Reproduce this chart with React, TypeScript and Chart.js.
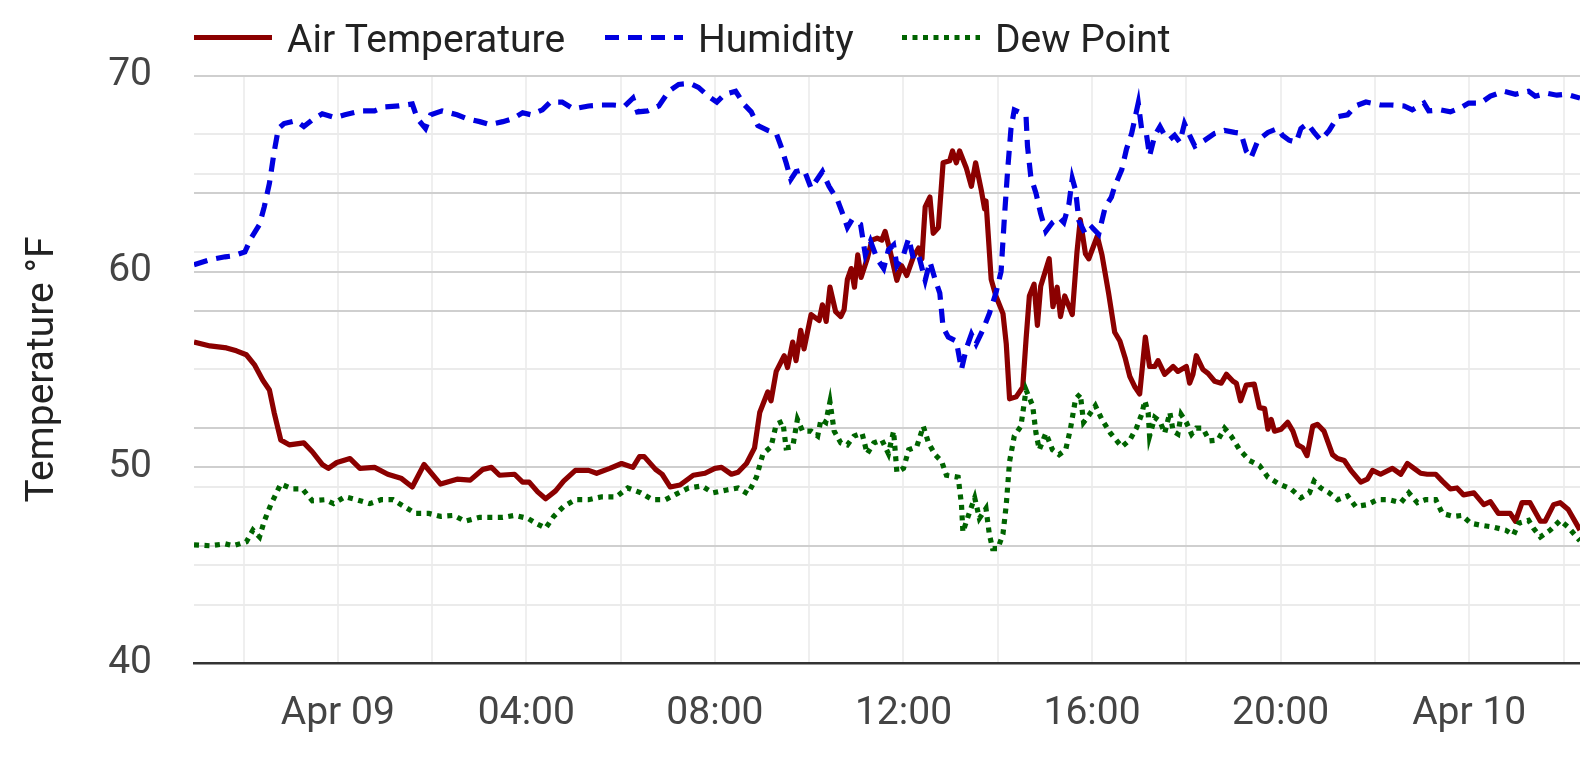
import React, { useEffect, useRef } from "react";
import { Chart, registerables } from "chart.js";

Chart.register(...registerables);

// ---------- data (hours relative to Apr 09 00:00) ----------
const seriesLabels = ["Air Temperature", "Humidity", "Dew Point"];

const airHours = [
  -3.05, -2.71, -2.36, -2.15, -1.94, -1.77, -1.59, -1.45, -1.35, -1.21,
  -1.03, -0.72, -0.54, -0.33, -0.2, -0.02, 0.26, 0.47, 0.78, 1.06,
  1.34, 1.58, 1.83, 2.18, 2.53, 2.81, 3.08, 3.26, 3.43, 3.75,
  3.92, 4.06, 4.24, 4.41, 4.62, 4.79, 5.04, 5.32, 5.49, 5.77,
  6.02, 6.26, 6.4, 6.5, 6.74, 6.88, 7.05, 7.26, 7.54, 7.79,
  8.0, 8.14, 8.35, 8.49, 8.67, 8.84, 8.95, 9.12, 9.19, 9.3,
  9.47, 9.54, 9.65, 9.72, 9.82, 9.89, 10.04, 10.21, 10.28, 10.36,
  10.44, 10.56, 10.67, 10.74, 10.81, 10.89, 10.96, 11.03, 11.1, 11.23,
  11.33, 11.44, 11.54, 11.61, 11.72, 11.86, 11.96, 12.07, 12.21, 12.32,
  12.39, 12.46, 12.56, 12.63, 12.74, 12.84, 12.98, 13.04, 13.12, 13.19,
  13.33, 13.44, 13.53, 13.65, 13.72, 13.75, 13.86, 13.96, 14.11, 14.18,
  14.25, 14.39, 14.53, 14.6, 14.67, 14.77, 14.84, 14.91, 15.09, 15.17,
  15.26, 15.33, 15.42, 15.58, 15.68, 15.75, 15.86, 15.93, 16.11, 16.21,
  16.35, 16.48, 16.59, 16.7, 16.8, 16.91, 17.01, 17.13, 17.22, 17.33,
  17.4, 17.54, 17.72, 17.82, 18.0, 18.07, 18.14, 18.21, 18.35, 18.46,
  18.6, 18.74, 18.85, 18.99, 19.06, 19.15, 19.27, 19.44, 19.55, 19.66,
  19.73, 19.8, 19.87, 20.01, 20.15, 20.26, 20.36, 20.47, 20.56, 20.68,
  20.78, 20.92, 21.1, 21.21, 21.35, 21.49, 21.7, 21.84, 21.95, 22.12,
  22.37, 22.55, 22.69, 22.83, 22.97, 23.11, 23.29, 23.43, 23.6, 23.74,
  23.88, 24.1, 24.31, 24.45, 24.62, 24.87, 24.98, 25.12, 25.29, 25.51,
  25.61, 25.79, 25.93, 26.1, 26.35,
];
const airTemps = [
  56.4, 56.2, 56.1, 55.95, 55.75, 55.25, 54.45, 53.95, 52.8, 51.4,
  51.15, 51.25, 50.8, 50.15, 49.95, 50.25, 50.45, 49.95, 50.0, 49.65,
  49.45, 49.0, 50.15, 49.15, 49.4, 49.35, 49.9, 50.0, 49.6, 49.65,
  49.25, 49.25, 48.75, 48.4, 48.8, 49.3, 49.85, 49.85, 49.7, 49.95,
  50.2, 50.0, 50.55, 50.55, 49.9, 49.65, 49.0, 49.1, 49.6, 49.7,
  49.95, 50.0, 49.65, 49.75, 50.2, 51.0, 52.8, 53.85, 53.4, 54.9,
  55.7, 55.1, 56.4, 55.45, 57.0, 56.05, 57.8, 57.5, 58.3, 57.45,
  59.2, 57.95, 57.7, 58.05, 59.6, 60.15, 59.2, 60.85, 59.7, 60.65,
  61.6, 61.7, 61.6, 62.05, 61.0, 59.55, 60.3, 59.8, 60.75, 61.2,
  60.65, 63.3, 63.8, 61.95, 62.25, 65.55, 65.65, 66.15, 65.55, 66.15,
  65.3, 64.35, 65.55, 64.15, 63.2, 63.6, 59.6, 58.75, 57.85, 56.3,
  53.5, 53.6, 54.1, 56.55, 58.75, 59.35, 57.25, 59.25, 60.65, 58.2,
  59.2, 57.7, 58.75, 57.8, 61.0, 62.65, 60.9, 60.65, 61.8, 60.85,
  58.9, 56.9, 56.45, 55.6, 54.65, 54.1, 53.75, 56.65, 55.15, 55.15,
  55.45, 54.75, 55.15, 54.9, 55.15, 54.3, 54.75, 55.7, 55.0, 54.8,
  54.4, 54.3, 54.75, 54.4, 54.3, 53.4, 54.2, 54.25, 53.05, 53.0,
  51.95, 52.45, 51.85, 51.95, 52.3, 51.85, 51.15, 51.0, 50.6, 52.1,
  52.2, 51.85, 50.65, 50.45, 50.35, 49.85, 49.25, 49.4, 49.85, 49.65,
  49.95, 49.65, 50.2, 49.95, 49.7, 49.65, 49.65, 49.3, 48.9, 48.95,
  48.6, 48.7, 48.1, 48.25, 47.65, 47.65, 47.25, 48.2, 48.2, 47.25,
  47.25, 48.1, 48.2, 47.85, 46.8,
];

const humHours = [
  -3.05, -2.71, -2.39, -2.22, -1.97, -1.84, -1.66, -1.56, -1.45, -1.35,
  -1.26, -1.14, -0.89, -0.72, -0.51, -0.33, -0.06, 0.15, 0.5, 0.78,
  0.99, 1.3, 1.58, 1.69, 1.86, 1.97, 2.21, 2.53, 2.74, 3.01,
  3.22, 3.5, 3.71, 3.92, 4.1, 4.34, 4.51, 4.76, 5.0, 5.32,
  5.6, 5.84, 6.09, 6.26, 6.36, 6.57, 6.81, 7.02, 7.23, 7.47,
  7.65, 7.86, 8.04, 8.21, 8.44, 8.63, 8.77, 8.91, 9.12, 9.3,
  9.4, 9.51, 9.61, 9.72, 9.89, 10.04, 10.18, 10.28, 10.42, 10.6,
  10.74, 10.81, 10.91, 11.09, 11.19, 11.3, 11.44, 11.58, 11.68, 11.79,
  11.86, 12.0, 12.11, 12.21, 12.32, 12.46, 12.56, 12.67, 12.77, 12.84,
  12.95, 13.12, 13.23, 13.33, 13.44, 13.54, 13.68, 13.82, 13.96, 14.07,
  14.14, 14.21, 14.28, 14.35, 14.49, 14.6, 14.63, 14.7, 14.81, 14.91,
  15.02, 15.16, 15.3, 15.4, 15.51, 15.58, 15.65, 15.72, 15.86, 16.0,
  16.14, 16.28, 16.41, 16.48, 16.63, 16.73, 16.84, 16.98, 17.05, 17.15,
  17.22, 17.33, 17.44, 17.54, 17.65, 17.75, 17.86, 17.96, 18.07, 18.18,
  18.39, 18.6, 18.81, 19.02, 19.16, 19.27, 19.37, 19.52, 19.73, 19.94,
  20.04, 20.18, 20.33, 20.43, 20.57, 20.71, 20.85, 21.03, 21.21, 21.42,
  21.59, 21.81, 22.12, 22.34, 22.62, 22.79, 23.04, 23.14, 23.39, 23.6,
  23.81, 23.99, 24.24, 24.45, 24.73, 24.98, 25.26, 25.4, 25.65, 25.86,
  26.07, 26.35,
];
const humValues = [
  60.35, 60.6, 60.75, 60.8, 61.0, 61.7, 62.4, 63.3, 64.5, 66.1,
  67.3, 67.55, 67.7, 67.4, 67.8, 68.05, 67.85, 68.0, 68.2, 68.2,
  68.4, 68.45, 68.55, 67.8, 67.3, 68.0, 68.2, 68.0, 67.8, 67.65,
  67.5, 67.65, 67.8, 68.1, 68.0, 68.25, 68.65, 68.65, 68.3, 68.45,
  68.5, 68.5, 68.45, 68.85, 68.15, 68.2, 68.45, 69.2, 69.55, 69.6,
  69.4, 68.95, 68.65, 69.05, 69.2, 68.5, 68.15, 67.45, 67.2, 67.05,
  66.4, 65.55, 64.7, 65.1, 65.2, 64.25, 64.75, 65.1, 64.35, 63.65,
  62.75, 62.25, 62.65, 62.4, 60.85, 61.55, 60.65, 60.15, 61.1, 61.35,
  60.3, 60.85, 61.7, 60.65, 60.85, 59.55, 60.5, 59.6, 58.9, 57.15,
  56.65, 56.45, 55.0, 56.05, 56.8, 56.3, 57.0, 57.85, 58.9, 60.0,
  62.75, 65.2, 67.3, 68.25, 68.1, 67.9, 66.4, 64.85, 64.0, 62.95,
  62.05, 62.5, 62.75, 62.5, 63.45, 64.75, 64.15, 62.6, 61.9, 62.25,
  61.9, 63.3, 63.8, 64.35, 65.2, 66.25, 67.05, 68.6, 67.3, 67.05,
  65.9, 66.95, 67.4, 66.95, 66.75, 66.95, 66.6, 67.55, 66.95, 66.4,
  66.7, 67.05, 67.2, 67.1, 67.05, 66.15, 65.8, 66.7, 67.1, 67.3,
  66.95, 66.7, 66.6, 67.3, 67.55, 67.1, 66.7, 67.2, 67.9, 68.0,
  68.45, 68.65, 68.5, 68.5, 68.45, 68.25, 68.6, 68.2, 68.25, 68.15,
  68.35, 68.6, 68.6, 68.95, 69.2, 69.05, 69.2, 68.95, 69.1, 69.0,
  69.05, 68.85,
];

const dewHours = [
  -3.05, -2.71, -2.39, -2.22, -1.94, -1.8, -1.66, -1.56, -1.42, -1.21,
  -0.96, -0.75, -0.54, -0.27, -0.09, 0.15, 0.4, 0.68, 0.92, 1.17,
  1.41, 1.65, 1.93, 2.18, 2.46, 2.7, 3.01, 3.22, 3.5, 3.75,
  4.03, 4.24, 4.41, 4.58, 4.79, 5.04, 5.32, 5.6, 5.91, 6.15,
  6.43, 6.68, 6.95, 7.19, 7.44, 7.72, 7.96, 8.25, 8.49, 8.7,
  8.88, 9.02, 9.19, 9.3, 9.44, 9.51, 9.65, 9.75, 9.86, 10.04,
  10.18, 10.25, 10.35, 10.44, 10.53, 10.67, 10.81, 10.95, 11.12, 11.23,
  11.37, 11.54, 11.68, 11.79, 11.86, 12.0, 12.11, 12.28, 12.42, 12.53,
  12.67, 12.81, 12.91, 13.16, 13.23, 13.26, 13.37, 13.51, 13.61, 13.75,
  13.82, 13.89, 14.0, 14.11, 14.18, 14.25, 14.35, 14.49, 14.6, 14.74,
  14.81, 14.88, 15.02, 15.16, 15.3, 15.44, 15.54, 15.65, 15.75, 15.82,
  15.93, 16.07, 16.21, 16.39, 16.63, 16.8, 16.94, 17.05, 17.12, 17.19,
  17.22, 17.33, 17.44, 17.54, 17.65, 17.72, 17.82, 17.89, 18.0, 18.11,
  18.21, 18.35, 18.49, 18.67, 18.81, 18.95, 19.13, 19.34, 19.55, 19.73,
  19.97, 20.22, 20.43, 20.61, 20.71, 20.85, 21.03, 21.21, 21.42, 21.59,
  21.84, 22.05, 22.3, 22.55, 22.72, 22.9, 23.07, 23.29, 23.43, 23.67,
  23.85, 24.03, 24.24, 24.52, 24.77, 24.94, 25.05, 25.26, 25.36, 25.51,
  25.72, 25.93, 26.1, 26.35,
];
const dewValues = [
  46.05, 46.0, 46.1, 46.0, 46.2, 46.8, 46.45, 47.25, 48.1, 49.15,
  48.9, 48.9, 48.3, 48.35, 48.15, 48.5, 48.35, 48.15, 48.35, 48.35,
  48.0, 47.65, 47.65, 47.5, 47.55, 47.25, 47.45, 47.45, 47.45, 47.55,
  47.4, 47.1, 46.9, 47.5, 48.0, 48.35, 48.35, 48.5, 48.5, 48.95,
  48.7, 48.35, 48.35, 48.65, 48.95, 49.05, 48.7, 48.85, 48.95, 48.65,
  49.5, 50.7, 51.05, 52.2, 52.35, 51.0, 51.05, 52.45, 51.85, 51.85,
  51.6, 52.45, 52.3, 53.35, 51.85, 51.25, 51.15, 51.6, 51.75, 50.7,
  51.25, 51.4, 50.7, 51.85, 49.75, 49.95, 50.9, 51.05, 52.1, 51.25,
  50.65, 50.3, 49.6, 49.5, 48.1, 46.7, 47.5, 48.45, 47.4, 47.9,
  46.6, 45.85, 45.85, 46.6, 48.1, 50.3, 51.6, 52.1, 53.95, 53.15,
  51.75, 50.9, 51.75, 50.9, 50.65, 50.9, 51.95, 53.5, 53.75, 52.3,
  52.65, 53.15, 52.45, 51.75, 51.05, 51.4, 52.0, 52.7, 53.4, 52.8,
  51.6, 52.55, 52.35, 51.75, 52.8, 51.85, 51.7, 52.7, 52.3, 51.7,
  52.0, 52.0, 51.35, 51.4, 52.0, 51.6, 50.9, 50.35, 50.1, 49.5,
  49.15, 48.9, 48.45, 48.7, 49.3, 48.95, 48.7, 48.35, 48.55, 48.0,
  48.1, 48.35, 48.35, 48.2, 48.7, 48.2, 48.35, 48.35, 47.65, 47.5,
  47.55, 47.15, 47.05, 46.95, 46.8, 46.55, 47.15, 47.3, 46.9, 46.45,
  46.8, 47.3, 46.95, 46.25,
];

// ---------- axes ----------
const xRange = [-3.05, 26.35];
const xTickHours = [0, 4, 8, 12, 16, 20, 24];
const xTickLabels = ["Apr 09", "04:00", "08:00", "12:00", "16:00", "20:00", "Apr 10"];
const yRange = [40, 70];
const yTickValues = [40, 50, 60, 70];
const yMajorGrid = [46, 50, 52, 58, 60, 64, 70];
const yMinorGrid = [43, 45, 49, 55, 61, 65, 67];

const FONT = "Roboto";
const FONT_SIZE = 39;

const toPoints = (xs: number[], ys: number[]) => xs.map((x, i) => ({ x, y: ys[i] }));

export default function App() {
  const ref = useRef<HTMLCanvasElement>(null);

  useEffect(() => {
    if (!ref.current) return;

    const legendX = [194, 605, 902];
    const legendPlugin = {
      id: "refLegend",
      afterDraw(chart: any) {
        const ctx = chart.ctx as CanvasRenderingContext2D;
        ctx.save();
        chart.data.datasets.forEach((ds: any, i: number) => {
          const x0 = legendX[i];
          ctx.beginPath();
          ctx.setLineDash(ds.borderDash || []);
          ctx.lineCap = "butt";
          ctx.strokeStyle = ds.borderColor;
          ctx.lineWidth = ds.borderWidth;
          ctx.moveTo(x0, 37.5);
          ctx.lineTo(x0 + 78, 37.5);
          ctx.stroke();
          ctx.setLineDash([]);
          ctx.font = `${FONT_SIZE}px ${FONT}`;
          ctx.fillStyle = "#222222";
          ctx.textBaseline = "alphabetic";
          ctx.textAlign = "left";
          ctx.fillText(ds.label, x0 + 93, 52);
        });
        ctx.restore();
      },
    };

    const chart = new Chart(ref.current, {
      type: "line",
      data: {
        datasets: [
          {
            label: seriesLabels[0],
            data: toPoints(airHours, airTemps),
            borderColor: "#8b0000",
            borderWidth: 5.2,
            pointRadius: 0,
            tension: 0,
            fill: false,
            borderJoinStyle: "round",
            order: 3,
          },
          {
            label: seriesLabels[1],
            data: toPoints(humHours, humValues),
            borderColor: "#0000e0",
            borderWidth: 5.2,
            borderDash: [14, 9],
            pointRadius: 0,
            tension: 0,
            fill: false,
            order: 2,
          },
          {
            label: seriesLabels[2],
            data: toPoints(dewHours, dewValues),
            borderColor: "#006400",
            borderWidth: 5.2,
            borderDash: [5, 5.5],
            pointRadius: 0,
            tension: 0,
            fill: false,
            order: 1,
          },
        ],
      },
      options: {
        responsive: false,
        animation: false,
        devicePixelRatio: 1,
        layout: { padding: { top: 75.6, right: 0, bottom: 0, left: 0 } },
        plugins: {
          legend: { display: false },
          tooltip: { enabled: false },
        },
        scales: {
          x: {
            type: "linear",
            min: xRange[0],
            max: xRange[1],
            afterFit: (s: any) => {
              s.height = 95.7;
              s.paddingLeft = 0;
              s.paddingRight = 0;
            },
            grid: {
              color: "#efefef",
              lineWidth: 2,
              drawTicks: false,
            },
            border: { display: true, color: "#333333", width: 2.5 },
            ticks: {
              stepSize: 2,
              includeBounds: false,
              autoSkip: false,
              maxRotation: 0,
              padding: 28,
              color: "#444444",
              font: { family: FONT, size: FONT_SIZE },
              callback: (v: any) => {
                const idx = xTickHours.findIndex((h) => Math.abs(h - Number(v)) < 1e-6);
                return idx >= 0 ? xTickLabels[idx] : "";
              },
            },
          },
          y: {
            type: "linear",
            min: yRange[0],
            max: yRange[1],
            afterFit: (s: any) => {
              s.width = 194;
            },
            grid: {
              drawTicks: false,
              lineWidth: 2,
              color: (c: any) => {
                const v = Math.round(c.tick.value);
                if (yMajorGrid.includes(v)) return "#cfcfcf";
                if (yMinorGrid.includes(v)) return "#ebebeb";
                return "rgba(0,0,0,0)";
              },
            },
            border: { display: false },
            title: {
              display: true,
              text: "Temperature °F",
              color: "#222222",
              font: { family: FONT, size: FONT_SIZE },
              padding: { top: 20, bottom: 0 },
            },
            ticks: {
              stepSize: 1,
              autoSkip: false,
              padding: 42,
              color: "#444444",
              font: { family: FONT, size: FONT_SIZE },
              callback: (v: any) => (yTickValues.includes(Number(v)) ? String(v) : ""),
            },
          },
        },
      },
      plugins: [legendPlugin],
    } as any);

    return () => chart.destroy();
  }, []);

  return (
    <div
      style={{
        position: "fixed",
        left: 0,
        top: 0,
        width: 1580,
        height: 759,
        background: "#ffffff",
      }}
    >
      <canvas ref={ref} width={1580} height={759} style={{ display: "block" }} />
    </div>
  );
}
